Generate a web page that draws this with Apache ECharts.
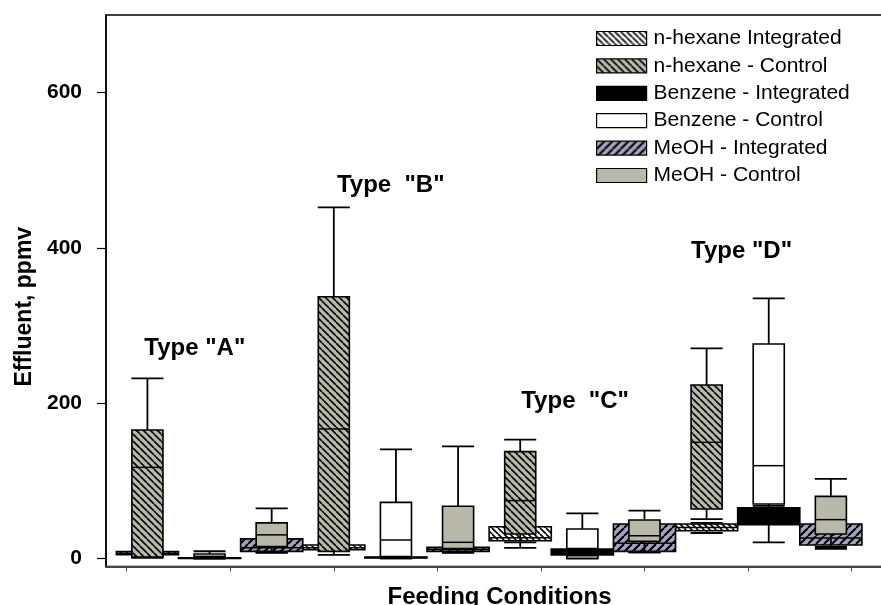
<!DOCTYPE html>
<html><head><meta charset="utf-8">
<script src="https://cdn.jsdelivr.net/npm/echarts@6/dist/echarts.min.js"></script>
<style>html,body{margin:0;padding:0;background:#fff}#c{width:881px;height:605px}</style>
</head><body><div id="c"></div>
<script>
// ---- DATA ----
const types = ['Type "A"', 'Type  "B"', 'Type  "C"', 'Type "D"'];
// x positions (axis units) of each compound slot, per type
const nHexanePos = [0.2, 2.0, 3.8, 5.6];
const benzenePos = [0.8, 2.6, 4.4, 6.2];
const meohPos    = [1.4, 3.2, 5.0, 6.8];
// box statistics per type: [min, Q1, median, Q3, max]
const nHexaneIntegrated = [[3, 5, 7, 9, 10], [11, 11.5, 14, 17.5, 18.5], [21, 23, 27, 41, 42], [33, 36, 40, 44.5, 46]];
const nHexaneControl    = [[1, 2, 117.5, 165.7, 232], [4.8, 9.4, 167, 337.3, 452.3], [13.8, 31.8, 74.7, 137.8, 153.2], [51, 64, 149.8, 223.6, 270.8]];
const benzeneIntegrated = [[0, 0.3, 0.6, 1.2, 1.5], [0.5, 1, 1.5, 2, 2.5], [4, 4.8, 8, 12.5, 13], [21, 43.8, 55, 65.3, 68]];
const benzeneControl    = [[0.5, 1, 3, 6, 9.5], [0.5, 1.5, 24, 72.5, 140.7], [0, 0.4, 8, 38.2, 58.3], [60, 70.4, 119.7, 276.4, 335]];
const meohIntegrated    = [[8, 9.4, 14, 25.4, 27], [8, 9.4, 12, 14.6, 15], [8.1, 9.4, 19.7, 44.6, 46], [15, 17.6, 26.6, 44.6, 46]];
const meohControl       = [[7.3, 15.4, 30.6, 46, 64.8], [7.3, 13, 21, 67.4, 144.6], [8.1, 22.3, 29.6, 49.8, 61.8], [12.5, 31.8, 50.2, 80.2, 102.6]];
const yTicks = [0, 200, 400, 600];
const xTicks = [0, 1, 2, 3, 4, 5, 6, 7];
// annotation anchor (left edge, vertical middle) in data units
const typeLabelPos = [[0.17, 271], [2.03, 481], [3.81, 202], [5.45, 395]];

// ---- STYLE ----
const FONT = 'Liberation Sans, Arial, sans-serif';
const GRAY = '#b9b9ab';
const PURPLE = '#a2a2bc';
function hatch(bg, dir, s, lw) {
  const c = document.createElement('canvas');
  c.width = s; c.height = s;
  const g = c.getContext('2d');
  g.fillStyle = bg; g.fillRect(0, 0, s, s);
  g.strokeStyle = '#000'; g.lineWidth = lw;
  g.beginPath();
  for (let k = -1; k <= 1; k++) {
    if (dir === 'back') { g.moveTo(k * s, 0); g.lineTo(k * s + s, s); }
    else { g.moveTo(k * s, s); g.lineTo(k * s + s, 0); }
  }
  g.stroke();
  return { image: c, repeat: 'repeat' };
}
const fills = {
  nhi: hatch('#ffffff', 'back', 6, 1.6),
  nhc: hatch(GRAY, 'back', 7, 1.6),
  bi: '#000000',
  bc: '#ffffff',
  mi: hatch(PURPLE, 'fwd', 8, 2),
  mc: GRAY
};

function rows(pos, stats) { return pos.map((x, i) => [x].concat(stats[i])); }

function boxRender(fill, boxW, capW) {
  return function (params, api) {
    const x = api.value(0);
    const p = [1, 2, 3, 4, 5].map(i => api.coord([x, api.value(i)]));
    const cx = p[0][0];
    const unit = api.size([1, 0])[0];
    const bw = boxW * unit, cw = capW * unit;
    const yMin = p[0][1], yQ1 = p[1][1], yMed = p[2][1], yQ3 = p[3][1], yMax = p[4][1];
    const ls = { stroke: '#000', lineWidth: 1.8 };
    return {
      type: 'group',
      children: [
        { type: 'line', shape: { x1: cx, y1: yQ3, x2: cx, y2: yMax }, style: ls },
        { type: 'line', shape: { x1: cx, y1: yQ1, x2: cx, y2: yMin }, style: ls },
        { type: 'line', shape: { x1: cx - cw / 2, y1: yMax, x2: cx + cw / 2, y2: yMax }, style: ls },
        { type: 'line', shape: { x1: cx - cw / 2, y1: yMin, x2: cx + cw / 2, y2: yMin }, style: ls },
        { type: 'rect', shape: { x: cx - bw / 2, y: yQ3, width: bw, height: Math.max(yQ1 - yQ3, 0.5) },
          style: { fill: fill, stroke: '#000', lineWidth: 1.6 } },
        { type: 'line', shape: { x1: cx - bw / 2, y1: yMed, x2: cx + bw / 2, y2: yMed }, style: { stroke: '#000', lineWidth: 1.5 } }
      ]
    };
  };
}

const INT_W = 0.6, CTRL_W = 0.3, CAP_W = 0.31;
function boxSeries(name, pos, stats, fill, w) {
  return {
    name: name, type: 'custom',
    renderItem: boxRender(fill, w, CAP_W),
    encode: { x: 0, y: [1, 2, 3, 4, 5] },
    itemStyle: { color: typeof fill === 'string' ? fill : '#888' },
    data: rows(pos, stats),
    clip: false
  };
}

const series = [
  boxSeries('n-hexane Integrated', nHexanePos, nHexaneIntegrated, fills.nhi, INT_W),
  boxSeries('n-hexane - Control', nHexanePos, nHexaneControl, fills.nhc, CTRL_W),
  boxSeries('Benzene - Control', benzenePos, benzeneControl, fills.bc, CTRL_W),
  boxSeries('Benzene - Integrated', benzenePos, benzeneIntegrated, fills.bi, INT_W),
  boxSeries('MeOH - Integrated', meohPos, meohIntegrated, fills.mi, INT_W),
  boxSeries('MeOH - Control', meohPos, meohControl, fills.mc, CTRL_W)
];

const legendItems = [
  ['n-hexane Integrated', fills.nhi], ['n-hexane - Control', fills.nhc],
  ['Benzene - Integrated', fills.bi], ['Benzene - Control', fills.bc],
  ['MeOH - Integrated', fills.mi], ['MeOH - Control', fills.mc]
];

const chart = echarts.init(document.getElementById('c'), null, { renderer: 'canvas' });
chart.setOption({
  animation: false,
  backgroundColor: '#fff',
  textStyle: { fontFamily: FONT },
  grid: { left: 106, top: 15, width: 787, height: 551.4, outerBoundsMode: 'none', containLabel: false,
    show: true, borderColor: '#000', borderWidth: 1.5, backgroundColor: 'transparent' },
  legend: {
    orient: 'vertical', left: 591, top: 23, itemWidth: 50, itemHeight: 14, itemGap: 6.4, icon: 'rect',
    selectedMode: false,
    textStyle: { fontSize: 21, color: '#000', lineHeight: 21, fontFamily: FONT, padding: [0, 0, 0, 2] },
    data: legendItems.map(([n, f]) => ({ name: n, itemStyle: { color: f, borderColor: '#000', borderWidth: 1.2 } }))
  },
  xAxis: {
    type: 'value', min: -0.2, max: 7.4,
    axisLine: { show: true, onZero: false, lineStyle: { color: '#444', width: 2 } },
    axisTick: { show: true, customValues: xTicks, length: 5, lineStyle: { color: '#444', width: 1 } },
    axisLabel: { show: false },
    splitLine: { show: false },
    name: 'Feeding Conditions', nameLocation: 'middle', nameGap: 19,
    nameTextStyle: { fontSize: 24, fontWeight: 'bold', color: '#000', fontFamily: FONT }
  },
  yAxis: {
    type: 'value', min: -10, max: 700,
    axisLine: { show: true, onZero: false, lineStyle: { color: '#000', width: 1.5 } },
    axisTick: { show: true, customValues: yTicks, length: 9, lineStyle: { color: '#000', width: 1.2 } },
    axisLabel: { customValues: yTicks, fontSize: 21, fontWeight: 'bold', color: '#000', margin: 24, fontFamily: FONT },
    splitLine: { show: false },
    name: 'Effluent, ppmv', nameLocation: 'middle', nameGap: 68, nameRotate: 90,
    nameTextStyle: { fontSize: 23, fontWeight: 'bold', color: '#000', fontFamily: FONT, padding: [0, 32, 0, 0] }
  },
  series: series
});
// "Type" annotations placed through the axes' own scales
chart.setOption({
  graphic: typeLabelPos.map((p, i) => {
    const px = chart.convertToPixel({ gridIndex: 0 }, p);
    return { type: 'text', x: px[0], y: px[1], z: 100,
      style: { text: types[i], font: 'bold 24px ' + FONT, fill: '#000', verticalAlign: 'middle', align: 'left' } };
  })
});
</script></body></html>
